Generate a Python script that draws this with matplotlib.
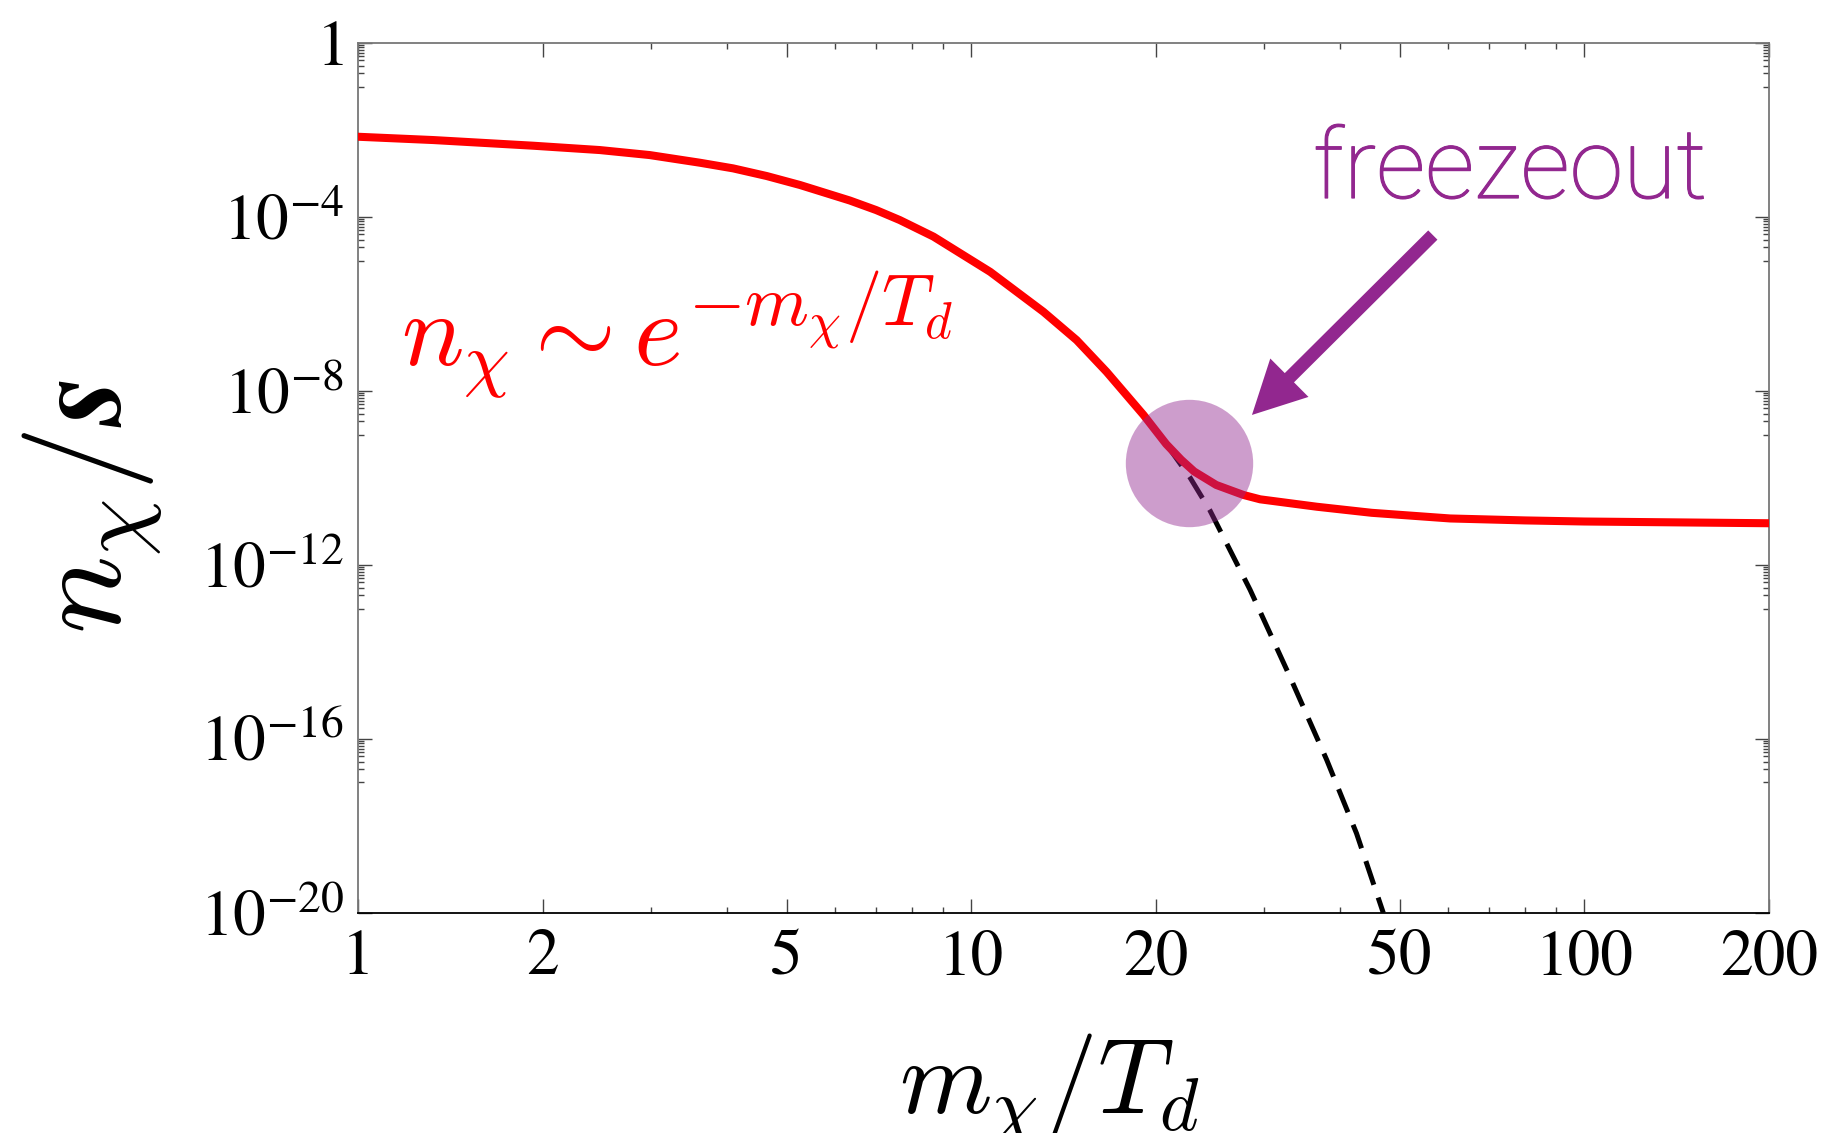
import numpy as np
import matplotlib
matplotlib.use("Agg")
import matplotlib.pyplot as plt
import matplotlib.patheffects as pe
from matplotlib.ticker import FixedLocator, FixedFormatter, NullFormatter

plt.rcParams['mathtext.fontset'] = 'stix'
plt.rcParams['font.family'] = 'STIXGeneral'

# abundance n_chi/s vs m_chi/T_d (log10 of y)
x_full = [1.00, 1.327, 1.93, 2.48, 2.99, 3.61, 4.09, 4.64, 5.26, 6.34, 7.0,
          7.65, 8.68, 10.74, 13.12, 14.86, 16.63, 19.1, 20.8, 22.0, 23.1,
          25.1, 27.8, 29.6, 36.6, 45.0, 60.4, 80, 100, 200]
logy_full = [-2.154, -2.230, -2.360, -2.460, -2.575, -2.751, -2.881, -3.057,
             -3.264, -3.62, -3.84, -4.07, -4.45, -5.26, -6.18, -6.83, -7.56,
             -8.55, -9.22, -9.58, -9.85, -10.16, -10.39, -10.49, -10.66,
             -10.80, -10.93, -10.975, -11.00, -11.04]

# equilibrium curve
x_eq = [19.1, 20.8, 22.7, 24.5, 28.5, 33.1, 38.0, 42.5, 47.0]
logy_eq = [-8.55, -9.22, -9.97, -10.74, -12.57, -14.57, -16.48, -18.17, -20.0]

xticks_major = [1, 2, 5, 10, 20, 50, 100, 200]
xticks_minor = [3, 4, 6, 7, 8, 9, 30, 40, 60, 70, 80, 90]
yticks_major = [1, 1e-4, 1e-8, 1e-12, 1e-16, 1e-20]
ytick_labels = [r'$1$', r'$10^{-4}$', r'$10^{-8}$', r'$10^{-12}$',
                r'$10^{-16}$', r'$10^{-20}$']

fo_x, fo_logy = 22.64, -9.65   # freezeout point

purple = '#92278f'

fig = plt.figure(figsize=(18.29, 11.33), dpi=100)
ax = fig.add_axes([0.1957, 0.1942, 0.7715, 0.7678])

ax.plot(x_eq, 10.0 ** np.array(logy_eq), color='black', lw=3.6,
        dashes=(5, 2.7), zorder=2)
ax.plot(x_full, 10.0 ** np.array(logy_full), color='red', lw=5.8, zorder=3,
        solid_joinstyle='round')
ax.scatter([fo_x], [10.0 ** fo_logy], s=8410, color=purple, alpha=0.45,
           linewidths=0, zorder=5)

ax.set_xscale('log')
ax.set_yscale('log')
ax.set_xlim(1, 200)
ax.set_ylim(1e-20, 1)

ax.xaxis.set_major_locator(FixedLocator(xticks_major))
ax.xaxis.set_major_formatter(FixedFormatter([str(v) for v in xticks_major]))
ax.xaxis.set_minor_locator(FixedLocator(xticks_minor))
ax.xaxis.set_minor_formatter(NullFormatter())

ymin = [m * 10.0 ** k for k in (0, -4, -8, -12, -16)
        for m in (0.1, 0.2, 0.3, 0.4, 0.5, 0.6, 0.7, 0.8, 0.9)]
ax.yaxis.set_major_locator(FixedLocator(yticks_major))
ax.yaxis.set_major_formatter(FixedFormatter(ytick_labels))
ax.yaxis.set_minor_locator(FixedLocator(ymin))
ax.yaxis.set_minor_formatter(NullFormatter())

ax.tick_params(which='both', direction='in', top=True, right=True,
               color='#444444', width=1.0)
ax.tick_params(which='major', length=10, labelsize=47)
ax.tick_params(which='minor', length=4)
ax.tick_params(axis='x', pad=12)
ax.tick_params(axis='y', pad=10)

for side in ('left', 'right', 'top'):
    ax.spines[side].set_color('#777777')
    ax.spines[side].set_linewidth(1.3)
ax.spines['bottom'].set_color('black')
ax.spines['bottom'].set_linewidth(1.3)

ax.set_xlabel(r'$m_\chi/T_d$', fontsize=76, math_fontfamily='cm')
ax.xaxis.set_label_coords(0.49, -0.136)
ax.set_ylabel(r'$n_\chi/\boldsymbol{s}$', fontsize=94, math_fontfamily='cm')
ax.yaxis.set_label_coords(-0.137, 0.467)

ax.text(1.175, 10 ** -7.40, r'$n_\chi \sim e^{-m_\chi/T_d}$', color='red',
        fontsize=75, math_fontfamily='cm', ha='left', va='baseline')

ax.text(36.1, 10 ** -3.563, 'freezeout', color=purple, fontsize=70,
        family='Roboto', fontweight='light', ha='left', va='baseline',
        path_effects=[pe.withStroke(linewidth=0.8, foreground=purple)])
ax.annotate('', xy=(28.7, 10 ** -8.55), xytext=(56.6, 10 ** -4.414),
            arrowprops=dict(arrowstyle='simple,head_length=3.8,head_width=3.9,tail_width=0.94',
                            mutation_scale=10, color=purple, lw=0,
                            shrinkA=0, shrinkB=0))

fig.savefig('out.png', dpi=100)
